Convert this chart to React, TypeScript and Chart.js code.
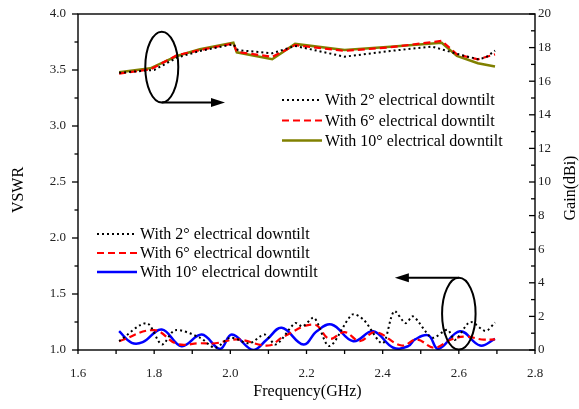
import React, { useEffect, useRef } from 'react';
import { Chart, registerables } from 'chart.js';

Chart.register(...registerables);

// ---------- Data ----------
// Upper group: Gain (dBi), right axis
const gainFreq = [1.708, 1.79, 1.86, 1.92, 2.008, 2.017, 2.11, 2.17, 2.30, 2.42, 2.555, 2.595, 2.65, 2.695];
const gain10 = [16.53, 16.77, 17.5, 17.9, 18.29, 17.72, 17.31, 18.22, 17.86, 18.05, 18.29, 17.5, 17.07, 16.87];
const gain6 = [16.45, 16.7, 17.55, 17.85, 18.25, 17.75, 17.45, 18.15, 17.8, 18.02, 18.4, 17.6, 17.3, 17.6];
const gain2Freq = [1.708, 1.80, 1.86, 1.92, 2.008, 2.02, 2.11, 2.17, 2.30, 2.42, 2.53, 2.60, 2.65, 2.67, 2.695];
const gain2 = [16.5, 16.67, 17.4, 17.8, 18.2, 17.85, 17.66, 18.1, 17.46, 17.8, 18.06, 17.6, 17.31, 17.4, 17.82];

// Lower group: VSWR, left axis
const vswr2Freq = [1.708, 1.78, 1.82, 1.855, 1.92, 1.96, 2.0, 2.05, 2.09, 2.12, 2.17, 2.19, 2.22, 2.26, 2.32, 2.35, 2.40, 2.43, 2.46, 2.48, 2.53, 2.57, 2.59, 2.63, 2.67, 2.695];
const vswr2 = [1.08, 1.24, 1.05, 1.177, 1.11, 1.02, 1.11, 1.06, 1.138, 1.05, 1.24, 1.21, 1.287, 1.035, 1.316, 1.27, 1.06, 1.346, 1.24, 1.30, 1.11, 1.18, 1.09, 1.25, 1.17, 1.245];
const vswr6Freq = [1.708, 1.80, 1.86, 1.92, 1.96, 2.02, 2.10, 2.14, 2.22, 2.26, 2.30, 2.34, 2.38, 2.45, 2.49, 2.535, 2.58, 2.62, 2.66, 2.695];
const vswr6 = [1.078, 1.177, 1.055, 1.06, 1.06, 1.094, 1.04, 1.12, 1.227, 1.10, 1.16, 1.08, 1.16, 1.04, 1.094, 1.02, 1.094, 1.12, 1.094, 1.094];
const vswr10Freq = [1.708, 1.741, 1.77, 1.82, 1.872, 1.925, 1.973, 2.004, 2.06, 2.096, 2.135, 2.192, 2.227, 2.266, 2.323, 2.375, 2.428, 2.467, 2.485, 2.52, 2.546, 2.603, 2.656, 2.695];
const vswr10 = [1.168, 1.064, 1.07, 1.183, 1.034, 1.138, 1.01, 1.138, 1.0, 1.094, 1.198, 1.049, 1.168, 1.227, 1.078, 1.168, 1.02, 1.034, 1.094, 1.13, 1.01, 1.168, 1.04, 1.10];

// Ticks
const xTicks = [1.6, 1.7, 1.8, 1.9, 2.0, 2.1, 2.2, 2.3, 2.4, 2.5, 2.6, 2.7, 2.8];
const xTickLabels = ['1.6', '', '1.8', '', '2.0', '', '2.2', '', '2.4', '', '2.6', '', '2.8'];
const vswrTicks = [1.0, 1.25, 1.5, 1.75, 2.0, 2.25, 2.5, 2.75, 3.0, 3.25, 3.5, 3.75, 4.0];
const vswrTickLabels = ['1.0', '', '1.5', '', '2.0', '', '2.5', '', '3.0', '', '3.5', '', '4.0'];
const gainTicks = [0, 1, 2, 3, 4, 5, 6, 7, 8, 9, 10, 11, 12, 13, 14, 15, 16, 17, 18, 19, 20];
const gainTickLabels = ['0', '', '2', '', '4', '', '6', '', '8', '', '10', '', '12', '', '14', '', '16', '', '18', '', '20'];

const seriesNames = ['With 2\u00b0 electrical downtilt', 'With 6\u00b0 electrical downtilt', 'With 10\u00b0 electrical downtilt'];
const xTitle = 'Frequency(GHz)';
const yTitle = 'VSWR';
const y1Title = 'Gain(dBi)';

const FONT = "'Liberation Serif', 'Times New Roman', serif";
const BLACK = '#000000';
const RED = '#ff0000';
const OLIVE = '#808000';
const BLUE = '#0000ff';

const pts = (xs: number[], ys: number[]) => xs.map((x, i) => ({ x, y: ys[i] }));

const styles = {
  dot: { borderColor: BLACK, borderWidth: 2, borderDash: [2, 3] },
  dash: { borderColor: RED, borderWidth: 2.2, borderDash: [7, 4] },
  olive: { borderColor: OLIVE, borderWidth: 2.5, borderDash: [] as number[] },
  blue: { borderColor: BLUE, borderWidth: 2.5, borderDash: [] as number[] },
};

const decor = {
  id: 'decor',
  afterDraw(chart: any) {
    const ctx = chart.ctx as CanvasRenderingContext2D;
    const { left, right, top, bottom } = chart.chartArea;
    const xs = chart.scales.x;
    const ys = chart.scales.y;
    const y1 = chart.scales.y1;
    ctx.save();
    // frame
    ctx.strokeStyle = '#000';
    ctx.lineWidth = 1.4;
    ctx.strokeRect(left, top, right - left, bottom - top);
    // ticks
    ctx.lineWidth = 1.3;
    const line = (a: number, b: number, c: number, d: number) => {
      ctx.beginPath(); ctx.moveTo(a, b); ctx.lineTo(c, d); ctx.stroke();
    };
    xTicks.forEach((v) => { const p = xs.getPixelForValue(v); line(p, bottom, p, bottom + 4); });
    vswrTicks.forEach((v, i) => { const p = ys.getPixelForValue(v); const l = vswrTickLabels[i] ? 6 : 3.5; line(left - l, p, left, p); });
    gainTicks.forEach((v, i) => { const p = y1.getPixelForValue(v); const l = gainTickLabels[i] ? 6 : 4; line(right - l, p, right, p); });

    // axis titles
    ctx.fillStyle = '#000';
    ctx.font = `16px ${FONT}`;
    ctx.textAlign = 'center';
    ctx.textBaseline = 'middle';
    ctx.fillText(xTitle, (left + right) / 2 + 1, 392);
    ctx.save(); ctx.translate(19, 190); ctx.rotate(-Math.PI / 2); ctx.fillText(yTitle, 0, 0); ctx.restore();
    ctx.save(); ctx.translate(571, 188); ctx.rotate(-Math.PI / 2); ctx.fillText(y1Title, 0, 0); ctx.restore();

    // legends
    const drawLegend = (x0: number, rows: number[], st: any[]) => {
      rows.forEach((ry, i) => {
        ctx.save();
        ctx.strokeStyle = st[i].borderColor;
        ctx.lineWidth = st[i].borderWidth;
        ctx.setLineDash(st[i].borderDash);
        line(x0, ry, x0 + 40, ry);
        ctx.restore();
        ctx.fillStyle = '#000';
        ctx.font = `16px ${FONT}`;
        ctx.textAlign = 'left';
        ctx.textBaseline = 'middle';
        ctx.fillText(seriesNames[i], x0 + 43, ry + 1);
      });
    };
    drawLegend(282, [100, 120.5, 140.5], [styles.dot, styles.dash, styles.olive]);
    drawLegend(97, [234, 253, 272], [styles.dot, styles.dash, styles.blue]);

    // annotations: ellipses + arrows
    ctx.strokeStyle = '#000';
    ctx.fillStyle = '#000';
    ctx.lineWidth = 2;
    ctx.setLineDash([]);
    const ellipse = (cx: number, cy: number, rx: number, ry: number) => {
      ctx.beginPath(); ctx.ellipse(cx, cy, rx, ry, 0, 0, Math.PI * 2); ctx.stroke();
    };
    const arrow = (x1: number, yy: number, x2: number) => {
      const dir = Math.sign(x2 - x1);
      const hl = 14, hw = 4.5;
      line(x1, yy, x2 - dir * hl + dir * 2, yy);
      ctx.beginPath();
      ctx.moveTo(x2, yy);
      ctx.lineTo(x2 - dir * hl, yy - hw);
      ctx.lineTo(x2 - dir * hl, yy + hw);
      ctx.closePath();
      ctx.fill();
    };
    // upper (gain) annotation
    {
      const cx = xs.getPixelForValue(1.82);
      const cy = y1.getPixelForValue(16.84);
      const rx = xs.getPixelForValue(1.82 + 0.0433) - cx;
      const ry = y1.getPixelForValue(16.84 - 2.11) - cy;
      ellipse(cx, cy, rx, ry);
      arrow(cx, cy + ry, xs.getPixelForValue(1.986));
    }
    // lower (vswr) annotation
    {
      const cx = xs.getPixelForValue(2.6);
      const cy = ys.getPixelForValue(1.324);
      const rx = xs.getPixelForValue(2.6 + 0.044) - cx;
      const ry = ys.getPixelForValue(1.324 - 0.32) - cy;
      ellipse(cx, cy, rx, ry);
      arrow(cx, cy - ry, xs.getPixelForValue(2.432));
    }
    ctx.restore();
  },
};

export default function App() {
  const ref = useRef<HTMLCanvasElement>(null);
  useEffect(() => {
    document.body.style.margin = '0';
    const canvas = ref.current!;
    const tickFont = { family: FONT, size: 13 };
    const hiddenTicks = (len: number) => ({
      display: true,
      drawOnChartArea: false,
      drawTicks: true,
      tickLength: len,
      tickColor: 'rgba(0,0,0,0)',
      color: 'rgba(0,0,0,0)',
    });
    const chart = new Chart(canvas, {
      type: 'line',
      data: {
        datasets: [
          { label: seriesNames[0], data: pts(vswr2Freq, vswr2), yAxisID: 'y', ...styles.dot, tension: 0.3, pointRadius: 0, fill: false },
          { label: seriesNames[1], data: pts(vswr6Freq, vswr6), yAxisID: 'y', ...styles.dash, tension: 0.4, pointRadius: 0, fill: false },
          { label: seriesNames[2], data: pts(vswr10Freq, vswr10), yAxisID: 'y', ...styles.blue, tension: 0.4, pointRadius: 0, fill: false },
          { label: seriesNames[0], data: pts(gain2Freq, gain2), yAxisID: 'y1', ...styles.dot, tension: 0, pointRadius: 0, fill: false },
          { label: seriesNames[1], data: pts(gainFreq, gain6), yAxisID: 'y1', ...styles.dash, tension: 0, pointRadius: 0, fill: false },
          { label: seriesNames[2], data: pts(gainFreq, gain10), yAxisID: 'y1', ...styles.olive, tension: 0, pointRadius: 0, fill: false },
        ],
      } as any,
      options: {
        responsive: false,
        animation: false,
        devicePixelRatio: 1,
        parsing: false as any,
        normalized: true,
        layout: { padding: { top: 14, left: 0, right: 0, bottom: 0 } },
        plugins: { legend: { display: false }, tooltip: { enabled: false }, title: { display: false } },
        scales: {
          x: {
            type: 'linear',
            position: 'bottom',
            min: 1.6,
            max: 2.8,
            afterBuildTicks: (s: any) => { s.ticks = xTicks.map((v) => ({ value: v })); },
            afterFit: (s: any) => { s.height = 59; },
            ticks: {
              autoSkip: false,
              maxRotation: 0,
              padding: 3,
              color: '#222',
              font: tickFont,
              callback: (_v: any, i: number) => xTickLabels[i],
            },
            grid: hiddenTicks(13),
            border: { display: false },
          },
          y: {
            type: 'linear',
            position: 'left',
            min: 1,
            max: 4,
            afterBuildTicks: (s: any) => { s.ticks = vswrTicks.map((v) => ({ value: v })); },
            afterFit: (s: any) => { s.width = 78; },
            ticks: {
              autoSkip: false,
              padding: 3,
              color: '#222',
              font: tickFont,
              callback: (_v: any, i: number) => vswrTickLabels[i],
            },
            grid: hiddenTicks(9),
            border: { display: false },
          },
          y1: {
            type: 'linear',
            position: 'right',
            min: 0,
            max: 20,
            afterBuildTicks: (s: any) => { s.ticks = gainTicks.map((v) => ({ value: v })); },
            afterFit: (s: any) => { s.width = 44; },
            ticks: {
              autoSkip: false,
              padding: 3,
              color: '#222',
              font: tickFont,
              callback: (_v: any, i: number) => gainTickLabels[i],
            },
            grid: { display: false, drawTicks: false },
            border: { display: false },
          },
        },
      } as any,
      plugins: [decor],
    });
    return () => chart.destroy();
  }, []);
  return (
    <div style={{ position: 'absolute', left: 0, top: 0, width: 579, height: 409 }}>
      <canvas ref={ref} width={579} height={409} style={{ display: 'block', width: 579, height: 409 }} />
    </div>
  );
}
